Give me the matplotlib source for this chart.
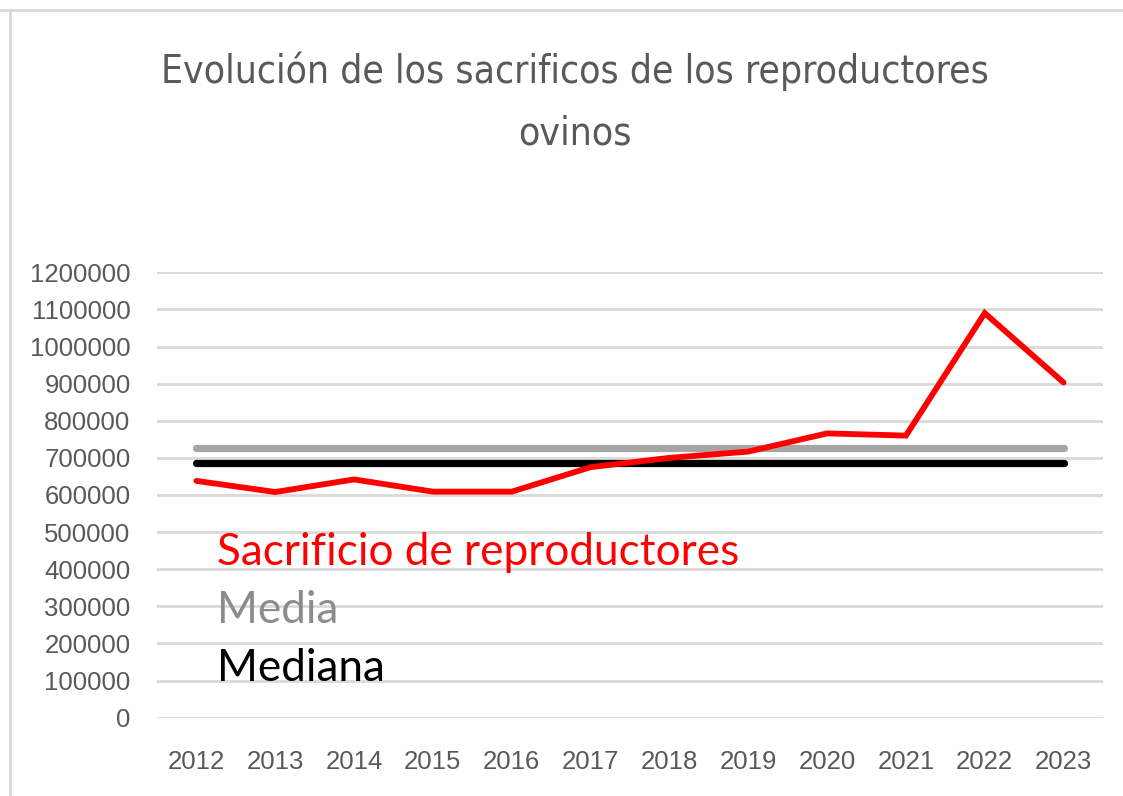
import matplotlib
matplotlib.use("Agg")
import matplotlib.pyplot as plt
from matplotlib.lines import Line2D

years = ["2012", "2013", "2014", "2015", "2016", "2017",
         "2018", "2019", "2020", "2021", "2022", "2023"]
sacrificios = [638000, 608000, 642000, 609000, 609000, 675000,
               700000, 717000, 766000, 760000, 1090000, 903000]
media = 727000
mediana = 685000
y_ticks = list(range(0, 1200001, 100000))

title = "Evolución de los sacrificos de los reproductores\novinos"
labels = ["Sacrificio de reproductores", "Media", "Mediana"]
label_colors = ["#ff0000", "#8c8c8c", "#000000"]

fig = plt.figure(figsize=(11.23, 7.96), dpi=100)
ax = fig.add_axes([157 / 1123, 1 - 717.7 / 796, (1103 - 157) / 1123, (717.7 - 272.3) / 796])

x = list(range(len(years)))
ax.plot([x[0], x[-1]], [media, media], color="#a5a5a5", lw=5.2, solid_capstyle="round", zorder=3)
ax.plot([x[0], x[-1]], [mediana, mediana], color="#000000", lw=5.2, solid_capstyle="round", zorder=3)
ax.plot(x, sacrificios, color="#ff0000", lw=4.2, solid_capstyle="round", solid_joinstyle="miter", zorder=4)

ax.set_xlim(-0.5, len(years) - 0.5)
ax.set_ylim(0, 1200000)
ax.set_yticks(y_ticks)
ax.set_yticklabels([str(v) for v in y_ticks])
ax.set_xticks(x)
ax.set_xticklabels(years)
ax.grid(axis="y", color="#d9d9d9", lw=2)
ax.set_axisbelow(True)
for s in ax.spines.values():
    s.set_visible(False)
ax.tick_params(length=0, colors="#595959", labelsize=18.5)
ax.tick_params(axis="y", pad=19)
ax.tick_params(axis="x", pad=23)
for t in ax.get_xticklabels() + ax.get_yticklabels():
    t.set_family("Liberation Sans")

# inline legend text
for i, (txt, col) in enumerate(zip(labels, label_colors)):
    ax.text(0.063, 0.342 - i * 0.13, txt, transform=ax.transAxes, color=col,
            fontsize=31.8, family=["Lato", "DejaVu Sans"], va="baseline", ha="left")

fig.text(575 / 1123, 1 - 102 / 796, title, ha="center", va="center",
         fontsize=28, color="#595959", family="DejaVu Sans", fontstretch="condensed",
         linespacing=1.8)

# screenshot border (top and left)
fig.add_artist(Line2D([0, 1], [1 - 10 / 796] * 2, color="#d9d9d9", lw=2, transform=fig.transFigure))
fig.add_artist(Line2D([10 / 1123] * 2, [0, 1 - 10 / 796], color="#d9d9d9", lw=2, transform=fig.transFigure))

fig.savefig("out.png", dpi=100)
